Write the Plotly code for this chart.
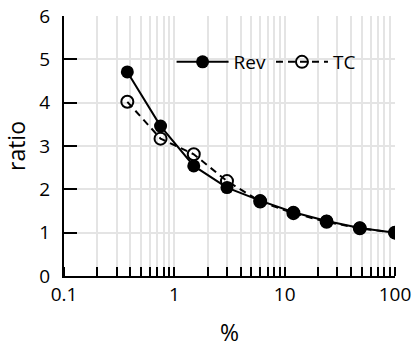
import plotly.graph_objects as go

x_vals = [0.375, 0.75, 1.5, 3, 6, 12, 24, 48, 100]
rev = [4.71, 3.46, 2.54, 2.04, 1.74, 1.47, 1.27, 1.11, 1.0]
tc = [4.02, 3.17, 2.81, 2.19, 1.72, 1.45, 1.25, 1.10, 1.0]
y_ticks = [0, 1, 2, 3, 4, 5, 6]
x_ticks = [0.1, 1, 10, 100]
x_tick_labels = ["0.1", "1", "10", "100"]

FONT = "Open Sans"

fig = go.Figure()
fig.add_trace(go.Scatter(
    x=x_vals, y=tc, name="TC", mode="lines+markers",
    line=dict(color="black", width=2, dash="7px,5px"),
    marker=dict(symbol="circle-open", size=12, color="black", line=dict(width=2)),
))
fig.add_trace(go.Scatter(
    x=x_vals, y=rev, name="Rev", mode="lines+markers",
    line=dict(color="black", width=2),
    marker=dict(symbol="circle", size=13, color="black"),
))

fig.update_layout(
    width=413, height=349,
    margin=dict(l=64, r=18, t=16, b=73),
    paper_bgcolor="white", plot_bgcolor="white",
    font=dict(family=FONT, size=19, color="black"),
    showlegend=True,
    legend=dict(orientation="h", x=0.325, y=0.823, xanchor="left", yanchor="middle",
                bgcolor="rgba(0,0,0,0)", traceorder="reversed", itemwidth=52,
                tracegroupgap=0, font=dict(family=FONT, size=19)),
)
fig.update_xaxes(
    type="log", range=[-1, 2], automargin=False,
    tickvals=x_ticks, ticktext=x_tick_labels,
    ticks="", showline=True, linecolor="black", linewidth=2,
    showgrid=True, gridcolor="#e4e4e4", gridwidth=1.5,
    minor=dict(dtick="D1", ticks="inside", ticklen=9, tickwidth=2, tickcolor="black",
               showgrid=True, gridcolor="#e4e4e4", gridwidth=1.5),
    title=dict(text="%", standoff=19),
    zeroline=False,
)
fig.update_yaxes(
    range=[0, 6], tickvals=y_ticks, automargin=False,
    ticks="inside", ticklen=13, tickwidth=2, tickcolor="black",
    showline=True, linecolor="black", linewidth=2,
    showgrid=True, gridcolor="#e4e4e4", gridwidth=1.5,
    title=dict(text="ratio", standoff=10),
    ticklabelstandoff=8,
    zeroline=False,
)

fig.write_html("out.html")
